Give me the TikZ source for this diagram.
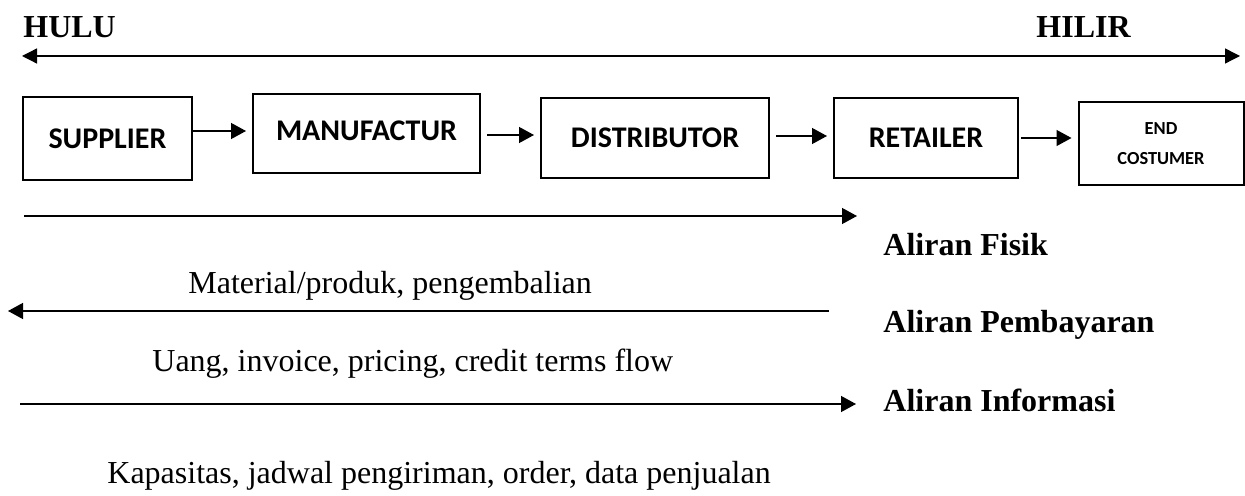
\documentclass[tikz,border=0pt]{standalone}
\usepackage{fontspec}
\setmainfont{Liberation Serif}
\newfontfamily\boxfont{Carlito}
\usetikzlibrary{arrows.meta}

\tikzset{
  box/.style={draw, line width=1pt, inner sep=0pt, font=\boxfont\bfseries\fontsize{15}{16}\selectfont},
  flow/.style={line width=0.65pt, -{Triangle[length=7.5pt,width=8pt]}},
  side/.style={anchor=base west, inner sep=0pt, font=\bfseries\fontsize{16}{18}\selectfont},
  note/.style={anchor=base west, inner sep=0pt, font=\fontsize{16}{18}\selectfont}
}

\begin{document}
\begin{tikzpicture}[x=0.5pt,y=-0.5pt]
  \useasboundingbox (0,0) rectangle (1245,496);

  %% hulu - hilir
  \node[side] (hulu) at (23,38) {HULU};
  \node[side] (hilir) at (1036,38) {HILIR};
  \coordinate (left) at (22,56);
  \coordinate (right) at (1240,56);
  \draw[line width=0.65pt, {Triangle[length=7.5pt,width=7.5pt]}-{Triangle[length=7.5pt,width=7.5pt]}] (left) -- (right);

  %% chain
  \node[box, minimum width=84.5pt, minimum height=41.5pt] (sup) at (107.5,139) {SUPPLIER};
  \node[box, minimum width=113.5pt, minimum height=39.5pt] (man) at (366.5,134) {\raisebox{3pt}{MANUFACTUR}};
  \node[box, minimum width=114pt, minimum height=40pt] (dis) at (655,138) {DISTRIBUTOR};
  \node[box, minimum width=92pt, minimum height=40pt] (ret) at (926,138) {RETAILER};
  \node[box, minimum width=82.5pt, minimum height=41.5pt, align=center,
        font=\boxfont\bfseries\fontsize{9.2}{15}\selectfont] (end) at (1161,144) {END\\COSTUMER};

  \draw[flow, shorten >=3pt] ([yshift=4pt]sup.east) -- ([yshift=4pt]sup.east -| man.west);
  \draw[flow, shorten <=3pt, shorten >=3pt] ([yshift=-0.5pt]man.east) -- ([yshift=-0.5pt]man.east -| dis.west);
  \draw[flow, shorten <=3pt, shorten >=3pt] ([yshift=1pt]dis.east) -- ([yshift=1pt]dis.east -| ret.west);
  \draw[flow, shorten <=1pt, shorten >=3pt] (ret.east) -- (ret.east -| end.west);

  %% aliran fisik
  \coordinate (f1) at (24,216);
  \coordinate (f2) at (857,216);
  \draw[flow] (f1) -- (f2);
  \node[side] (fisik) at (883,256) {Aliran Fisik};
  \node[note] (mat) at (188,293) {Material/produk, pengembalian};

  %% aliran pembayaran
  \coordinate (p1) at (829,311);
  \coordinate (p2) at (8,311);
  \draw[flow] (p1) -- (p2);
  \node[side] (bayar) at (883,332) {Aliran Pembayaran};
  \node[note] (uang) at (152,371) {Uang, invoice, pricing, credit terms flow};

  %% aliran informasi
  \coordinate (i1) at (20,404);
  \coordinate (i2) at (856,404);
  \draw[flow] (i1) -- (i2);
  \node[side] (info) at (883,411) {Aliran Informasi};
  \node[note] (kap) at (107,483) {Kapasitas, jadwal pengiriman, order, data penjualan};

\end{tikzpicture}
\end{document}
